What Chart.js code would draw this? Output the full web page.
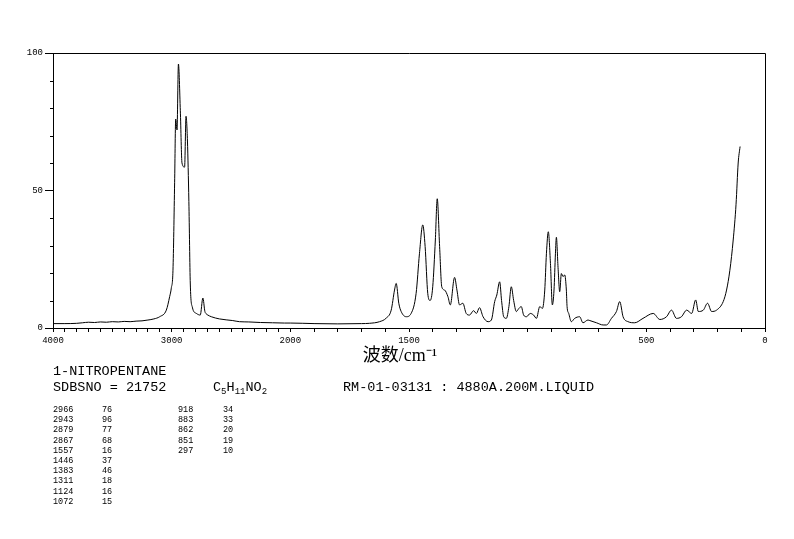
<!DOCTYPE html>
<html>
<head>
<meta charset="utf-8">
<script src="https://cdn.jsdelivr.net/npm/chart.js@4.4.1/dist/chart.umd.min.js"></script>
<style>
    body { margin: 0; background: #fff; }
    #wrap { position: relative; width: 794px; height: 539px; }
    #chart { position: absolute; left: 0; top: 0; }
    .note { position: absolute; font-family: "Liberation Mono", monospace; font-size: 13.5px; line-height: 14px; color: #000; white-space: pre; }
    .note sub { font-size: 9px; vertical-align: -3px; line-height: 0; }
    .col { position: absolute; font-family: "Liberation Mono", monospace; font-size: 8.5px; line-height: 10.2px; color: #000; white-space: pre; }
</style>
</head>
<body>
<div id="wrap">
    <canvas id="chart" width="794" height="539"></canvas>
    <div class="note" style="left:53px; top:365px;">1-NITROPENTANE</div>
    <div class="note" style="left:53px; top:381px;">SDBSNO = 21752</div>
    <div class="note" style="left:213px; top:381px;">C<sub>5</sub>H<sub>11</sub>NO<sub>2</sub></div>
    <div class="note" style="left:343px; top:381px;">RM-01-03131 : 4880A.200M.LIQUID</div>
    <div class="col" id="c1" style="left:53px; top:405px;"></div>
    <div class="col" id="c2" style="left:102px; top:405px;"></div>
    <div class="col" id="c3" style="left:178px; top:405px;"></div>
    <div class="col" id="c4" style="left:223px; top:405px;"></div>
</div>
<script>
// spectrum (wavenumber cm-1, intensity %)
const wavenumbers = [
    4000, 3900, 3800, 3750, 3700, 3650, 3600, 3550, 3500, 3450, 3400, 3350, 3300, 3250, 3200, 3150,
    3101, 3045, 3017, 3003, 2989, 2975, 2966, 2955, 2943, 2927, 2913, 2891, 2879, 2867, 2855, 2843,
    2826, 2792, 2759, 2737, 2720, 2710, 2695, 2666, 2597, 2485, 2429, 2350, 2250, 2150, 2050, 2000,
    1900, 1800, 1700, 1667, 1624, 1596, 1575, 1561, 1554, 1543, 1533, 1512, 1491, 1470, 1456, 1442,
    1432, 1421, 1411, 1400, 1389, 1381, 1371, 1362, 1350, 1336, 1326, 1308, 1298, 1287, 1273, 1259,
    1245, 1228, 1216, 1203, 1188, 1167, 1153, 1139, 1130, 1118, 1110, 1101, 1090, 1079, 1069, 1059,
    1048, 1037, 1027, 1017, 1005, 989, 975, 963, 949, 938, 928, 921, 913, 904, 896, 889,
    883, 879, 872, 865, 858, 851, 844, 837, 834, 827, 816, 802, 781, 767, 746, 738,
    710, 682, 668, 647, 626, 612, 598, 577, 549, 514, 471, 443, 415, 394, 373, 352,
    330, 309, 292, 281, 260, 242, 225, 204, 176, 162, 148, 134, 122, 113, 105
];
const intensity = [
    1.6, 1.6, 1.7, 1.9, 2.1, 2.0, 2.2, 2.1, 2.3, 2.2, 2.4, 2.3, 2.5, 2.6, 2.9, 3.3,
    4.1, 6.5, 11.4, 14.5, 21, 53, 76, 72, 96, 79, 60, 58.5, 77, 68, 46, 16,
    7.6, 5.3, 4.7, 10.9, 6, 5.2, 4.7, 4.1, 3.3, 2.7, 2.3, 2.2, 2.0, 1.9, 1.8, 1.8,
    1.6, 1.5, 1.6, 1.7, 2.3, 3.6, 6.5, 13.8, 16.2, 9, 6, 4.1, 5.3, 12.6, 27, 37.5,
    29.6, 12.6, 10, 15, 32, 47, 29.6, 15, 13.8, 11.4, 8.4, 18.4, 13.8, 8.4, 9, 5.3,
    4.7, 6.3, 5.3, 7.4, 4.1, 2.3, 2.9, 9.6, 12, 16.8, 10, 4.1, 3.5, 7.8, 15, 10,
    6, 7.1, 7.8, 4.7, 4.1, 5.3, 4.7, 3.5, 7.8, 7.1, 13.8, 27, 35, 23.5, 8.4, 13.8,
    27, 33, 22, 13.2, 19.8, 18.7, 19.3, 13.8, 7.8, 5.3, 2.3, 3.5, 4.1, 1.9, 2.9, 2.7,
    1.9, 1.1, 1.1, 3.5, 6, 9.6, 4.1, 2.3, 1.9, 3.5, 5.3, 3.1, 4.1, 6.5, 3.5, 4.1,
    6.5, 5.3, 10.2, 6, 6.5, 9, 6, 6.5, 9.6, 13.8, 21, 32, 45, 60, 66
];

// peak table printed under the chart
const peakWn = [2966, 2943, 2879, 2867, 1557, 1446, 1383, 1311, 1124, 1072, 918, 883, 862, 851, 297];
const peakInt = [76, 96, 77, 68, 16, 37, 46, 18, 16, 15, 34, 33, 20, 19, 10];

const xLabels = [4000, 3000, 2000, 1500, 500, 0];
const yLabels = [0, 50, 100];

// the axis is compressed 2:1 above 2000 cm-1
function toU(w) {
    return w >= 2000 ? (4000 - w) / 2 : 1000 + (2000 - w);
}
function fromU(u) {
    return u <= 1000 ? 4000 - 2 * u : 2000 - (u - 1000);
}

const xTicks = [];
for (let w = 4000; w >= 0; w -= 100) xTicks.push(toU(w));

const points = wavenumbers.map((w, i) => ({ x: toU(w), y: intensity[i] }));

// top/right frame and short y ticks
const framePlugin = {
    id: 'frame',
    afterDraw(chart) {
        const { ctx, chartArea: a, scales: { y } } = chart;
        ctx.save();
        ctx.strokeStyle = '#000';
        ctx.lineWidth = 1;
        ctx.beginPath();
        ctx.moveTo(Math.round(a.left), Math.round(a.top) + 0.5);
        ctx.lineTo(Math.round(a.right) + 0.5, Math.round(a.top) + 0.5);
        ctx.lineTo(Math.round(a.right) + 0.5, Math.round(a.bottom));
        for (let v = 10; v < 100; v += 10) {
            if (v === 50) continue;
            const py = Math.round(y.getPixelForValue(v)) + 0.5;
            ctx.moveTo(a.left - 3, py);
            ctx.lineTo(a.left, py);
        }
        ctx.stroke();
        ctx.restore();
    }
};

const tickFont = { family: '"Liberation Mono", monospace', size: 9 };

new Chart(document.getElementById('chart'), {
    type: 'line',
    data: {
        datasets: [{
            data: points,
            borderColor: '#000',
            borderWidth: 1,
            pointRadius: 0,
            fill: false,
            cubicInterpolationMode: 'monotone'
        }]
    },
    options: {
        responsive: false,
        animation: false,
        layout: { padding: { left: 0, top: 53, right: 29, bottom: 172 } },
        plugins: { legend: { display: false }, tooltip: { enabled: false } },
        scales: {
            x: {
                type: 'linear',
                min: 0,
                max: 3000,
                afterBuildTicks: s => { s.ticks = xTicks.map(v => ({ value: v })); },
                afterFit: s => { s.height = 39; },
                grid: { drawOnChartArea: false, tickLength: 4, color: '#000' },
                border: { color: '#000', width: 1 },
                ticks: {
                    autoSkip: false,
                    maxRotation: 0,
                    padding: 3,
                    color: '#000',
                    font: tickFont,
                    callback: v => {
                        const w = Math.round(fromU(v));
                        return xLabels.includes(w) ? String(w) : '';
                    }
                },
                title: {
                    display: true,
                    // trailing spaces nudge the centred title a little to the left, as in the original
                    text: '波数/cm⁻¹    ',
                    color: '#000',
                    padding: 0,
                    font: { family: '"Liberation Serif", "Noto Sans CJK SC", serif', size: 18 }
                }
            },
            y: {
                min: 0,
                max: 100,
                afterBuildTicks: s => { s.ticks = yLabels.map(v => ({ value: v })); },
                afterFit: s => { s.width = 53; },
                grid: { drawOnChartArea: false, tickLength: 8, color: '#000' },
                border: { color: '#000', width: 1 },
                ticks: { padding: 2, color: '#000', font: tickFont }
            }
        }
    },
    plugins: [framePlugin]
});

// fill the peak table
document.getElementById('c1').textContent = peakWn.slice(0, 10).join('\n');
document.getElementById('c2').textContent = peakInt.slice(0, 10).join('\n');
document.getElementById('c3').textContent = peakWn.slice(10).join('\n');
document.getElementById('c4').textContent = peakInt.slice(10).join('\n');
</script>
</body>
</html>
